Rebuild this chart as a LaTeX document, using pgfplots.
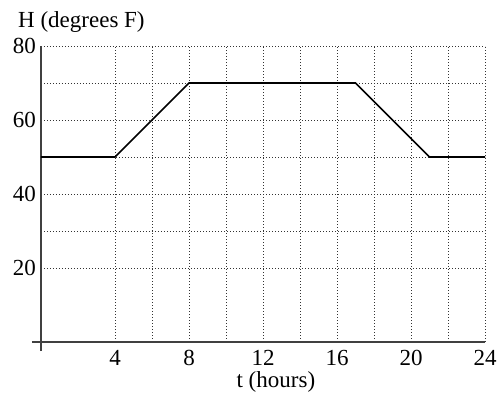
\documentclass[border=0pt]{standalone}
\usepackage{fontspec}
\setmainfont{Liberation Serif}
\usepackage{pgfplots}
\pgfplotsset{compat=1.18}
\begin{document}
\fontsize{23bp}{27bp}\selectfont
\begin{tikzpicture}
\begin{axis}[
  x=18.5bp, y=3.7bp,
  anchor=origin, at={(0,0)},
  xmin=0, xmax=24, ymin=0, ymax=80,
  axis lines=middle,
  axis line style={-, black!75, line width=1.2bp, shorten <=-9bp},
  xtick={4,8,12,16,20,24},
  ytick={20,40,60,80},
  minor x tick num=1,
  minor y tick num=1,
  major tick length=0pt, minor tick length=0pt,
  grid=both,
  major grid style={black!80, line width=0.8bp, dash pattern=on 1bp off 2bp},
  minor grid style={black!80, line width=0.8bp, dash pattern=on 1bp off 2bp},
  /pgf/number format/assume math mode=true,
  xticklabel style={anchor=north, inner sep=0pt, yshift=-8bp},
  yticklabel style={anchor=east, inner sep=0pt, xshift=-5bp},
  xlabel={t (hours)},
  ylabel={H (degrees F)},
  xlabel style={at={(axis description cs:0.529,-0.155)}, anchor=base, inner sep=0pt},
  ylabel style={at={(axis description cs:-0.0518,1.064)}, anchor=base west, rotate=0, inner sep=0pt},
  clip=false,
]
\addplot[black, line width=1.6bp] coordinates {(0,50) (4,50) (8,70) (17,70) (21,50) (24,50)};
\end{axis}
\pgfresetboundingbox
\path (-41bp,-52bp) rectangle (460bp,342bp);
\end{tikzpicture}
\end{document}
